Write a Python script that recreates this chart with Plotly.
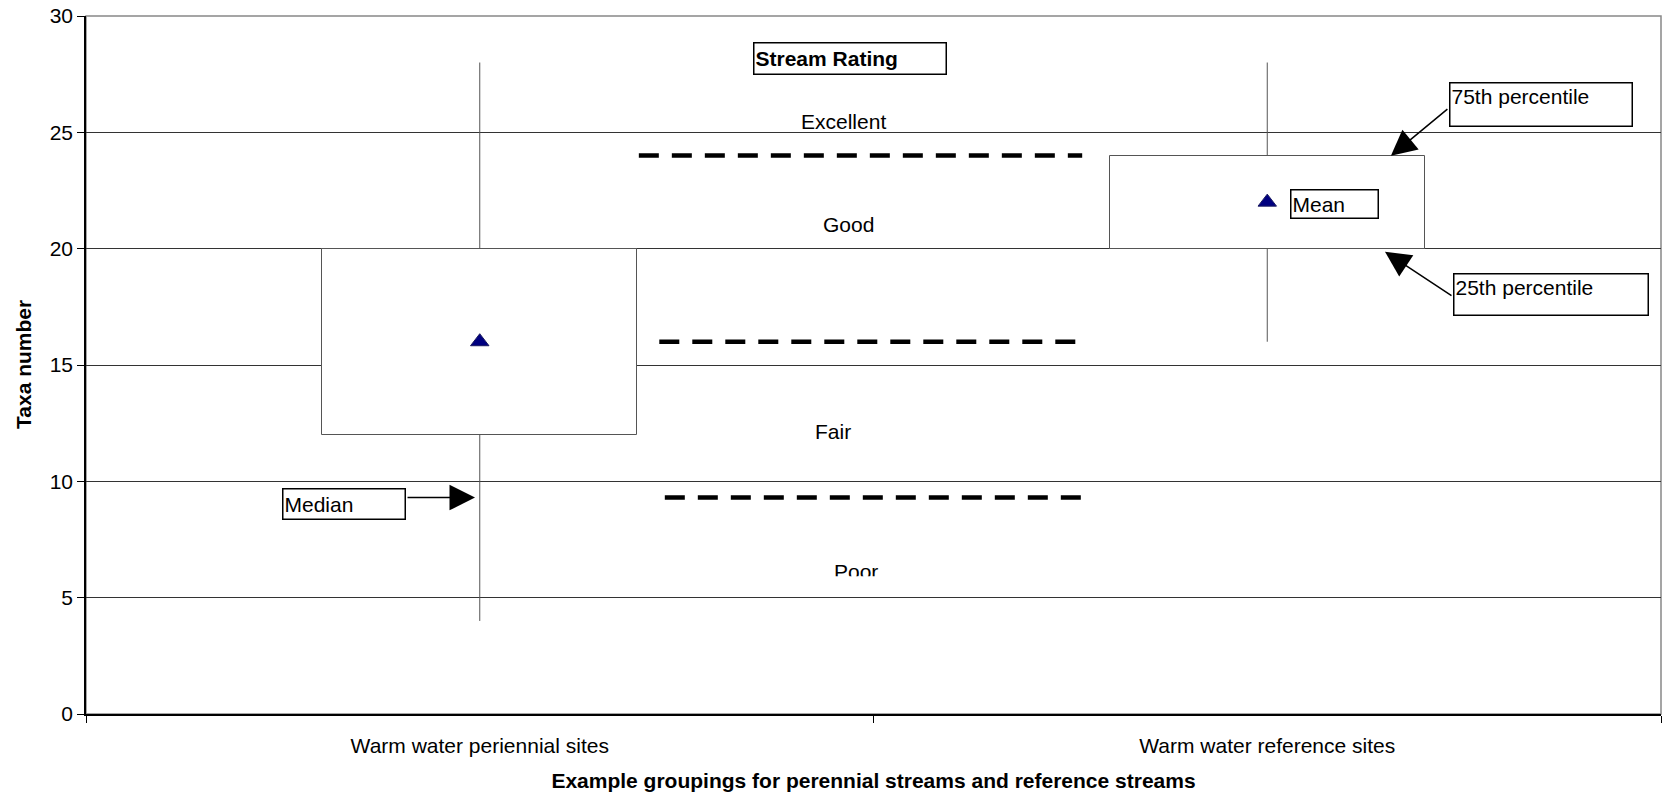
import plotly.graph_objects as go

# ---- data ----
categories = ["Warm water periennial sites", "Warm water reference sites"]
lower_whisker = [4, 16]
q1 = [12, 20]
q3 = [20, 24]
upper_whisker = [28, 28]
means = [16, 22]

rating_thresholds = [24, 16, 9.3]
threshold_x_start = [0.202, 0.228, 0.235]
threshold_x_end = [0.765, 0.765, 0.774]

rating_names = ["Excellent", "Good", "Fair", "Poor"]
rating_x = [0.462, 0.468, 0.449, 0.478]
rating_y = [25.45, 21.05, 12.14, 6.02]

y_ticks = [0, 5, 10, 15, 20, 25, 30]

FONT = "Arial, Liberation Sans, sans-serif"
FS = 21

pos = list(range(len(categories)))
fig = go.Figure()

# boxes (interquartile range)
fig.add_trace(go.Bar(
    x=pos, y=[b - a for a, b in zip(q1, q3)], base=q1, width=0.4,
    marker=dict(color="white", line=dict(color="#555555", width=1)),
    showlegend=False, hoverinfo="skip"))

# whiskers
for i in pos:
    fig.add_trace(go.Scatter(
        x=[i, i, None, i, i],
        y=[lower_whisker[i], q1[i], None, q3[i], upper_whisker[i]],
        mode="lines", line=dict(color="#555555", width=1),
        showlegend=False, hoverinfo="skip"))

# means
fig.add_trace(go.Scatter(
    x=pos, y=means, mode="markers",
    marker=dict(symbol="triangle-up", size=16, color="#000080",
                line=dict(color="#1a1a60", width=1)),
    showlegend=False))

# rating threshold dashed lines
for t, xs, xe in zip(rating_thresholds, threshold_x_start, threshold_x_end):
    fig.add_trace(go.Scatter(
        x=[xs, xe], y=[t, t], mode="lines",
        line=dict(color="black", width=4.5, dash="20px,13px"),
        showlegend=False, hoverinfo="skip"))

# rating names (Excellent..Fair as annotations, Poor as clipped text trace)
annotations = []
for name, rx, ry in zip(rating_names[:3], rating_x[:3], rating_y[:3]):
    annotations.append(dict(x=rx, y=ry, xref="x", yref="y", text=name,
                            showarrow=False, font=dict(family=FONT, size=FS, color="black")))
fig.add_trace(go.Scatter(
    x=[rating_x[3]], y=[rating_y[3]], mode="text", text=[rating_names[3]],
    textfont=dict(family=FONT, size=FS, color="black"),
    showlegend=False, hoverinfo="skip"))


def box(text, x, y, w, h, bold=False, valign="middle"):
    t = f"<b>{text}</b>" if bold else text
    return dict(x=x, y=y, xref="x", yref="y", text=t, showarrow=False,
                width=w - 5, height=h - 5, align="left", valign=valign,
                bordercolor="black", borderwidth=1.5, borderpad=1,
                bgcolor="white", font=dict(family=FONT, size=FS, color="black"))


annotations += [
    box("Stream Rating", 0.470, 28.18, 194, 33, bold=True),
    box("Median", -0.172, 9.04, 124, 32),
    box("Mean", 1.0854, 21.93, 89, 30),
    box("75th percentile", 1.3476, 26.2, 184, 45, valign="top"),
    box("25th percentile", 1.360, 18.04, 196, 43, valign="top"),
]


def arrow(x, y, ax, ay):
    return dict(x=x, y=y, xref="x", yref="y", text="", showarrow=True,
                ax=ax, ay=ay, axref="pixel", ayref="pixel",
                arrowhead=2, arrowsize=3.4, arrowwidth=1.5, arrowcolor="black",
                standoff=0, startstandoff=0)


annotations += [
    arrow(-0.006, 9.30, -69, 0),
    arrow(1.157, 23.99, 58, -48),
    arrow(1.1495, 19.87, 68, 45),
]

# y-axis title
annotations.append(dict(
    x=-0.04, y=0.5, xref="paper", yref="paper", text="<b>Taxa number</b>",
    textangle=-90, showarrow=False, xanchor="center", yanchor="middle",
    font=dict(family=FONT, size=FS, color="black")))

fig.update_layout(
    width=1663, height=798,
    margin=dict(l=86, r=2, t=16, b=84),
    paper_bgcolor="white", plot_bgcolor="white",
    font=dict(family=FONT, size=FS, color="black"),
    bargap=0,
    annotations=annotations,
    shapes=[
        dict(type="rect", xref="paper", yref="paper", x0=0, y0=0, x1=1, y1=1,
             line=dict(color="#888888", width=1.5), layer="below"),
        # clip the lower part of the "Poor" label
        dict(type="rect", xref="x", yref="y", x0=0.40, x1=0.56, y0=5.35, y1=5.92,
             fillcolor="white", line=dict(width=0), layer="above"),
    ],
    xaxis=dict(
        range=[-0.5, 1.5], tickmode="array", tickvals=pos, ticktext=categories,
        ticks="", showgrid=False, zeroline=False,
        showline=True, linecolor="black", linewidth=1.5,
        ticklabelstandoff=12,
        minor=dict(tickmode="array", tickvals=[-0.5, 0.5, 1.5], ticks="outside",
                   ticklen=7, tickcolor="black", tickwidth=1, showgrid=False),
        tickfont=dict(family=FONT, size=FS, color="black"),
        title=dict(text="<b>Example groupings for perennial streams and reference streams</b>",
                   font=dict(family=FONT, size=FS, color="black"), standoff=17),
    ),
    yaxis=dict(
        range=[0, 30], tickmode="array", tickvals=y_ticks,
        showgrid=True, gridcolor="#333333", gridwidth=1, zeroline=False,
        showline=True, linecolor="black", linewidth=1.5,
        ticks="outside", ticklen=7, tickcolor="black",
        tickfont=dict(family=FONT, size=FS, color="black"),
    ),
)

fig.write_html("out.html", config={"displayModeBar": False},
               post_script="document.body.style.margin='0';")
